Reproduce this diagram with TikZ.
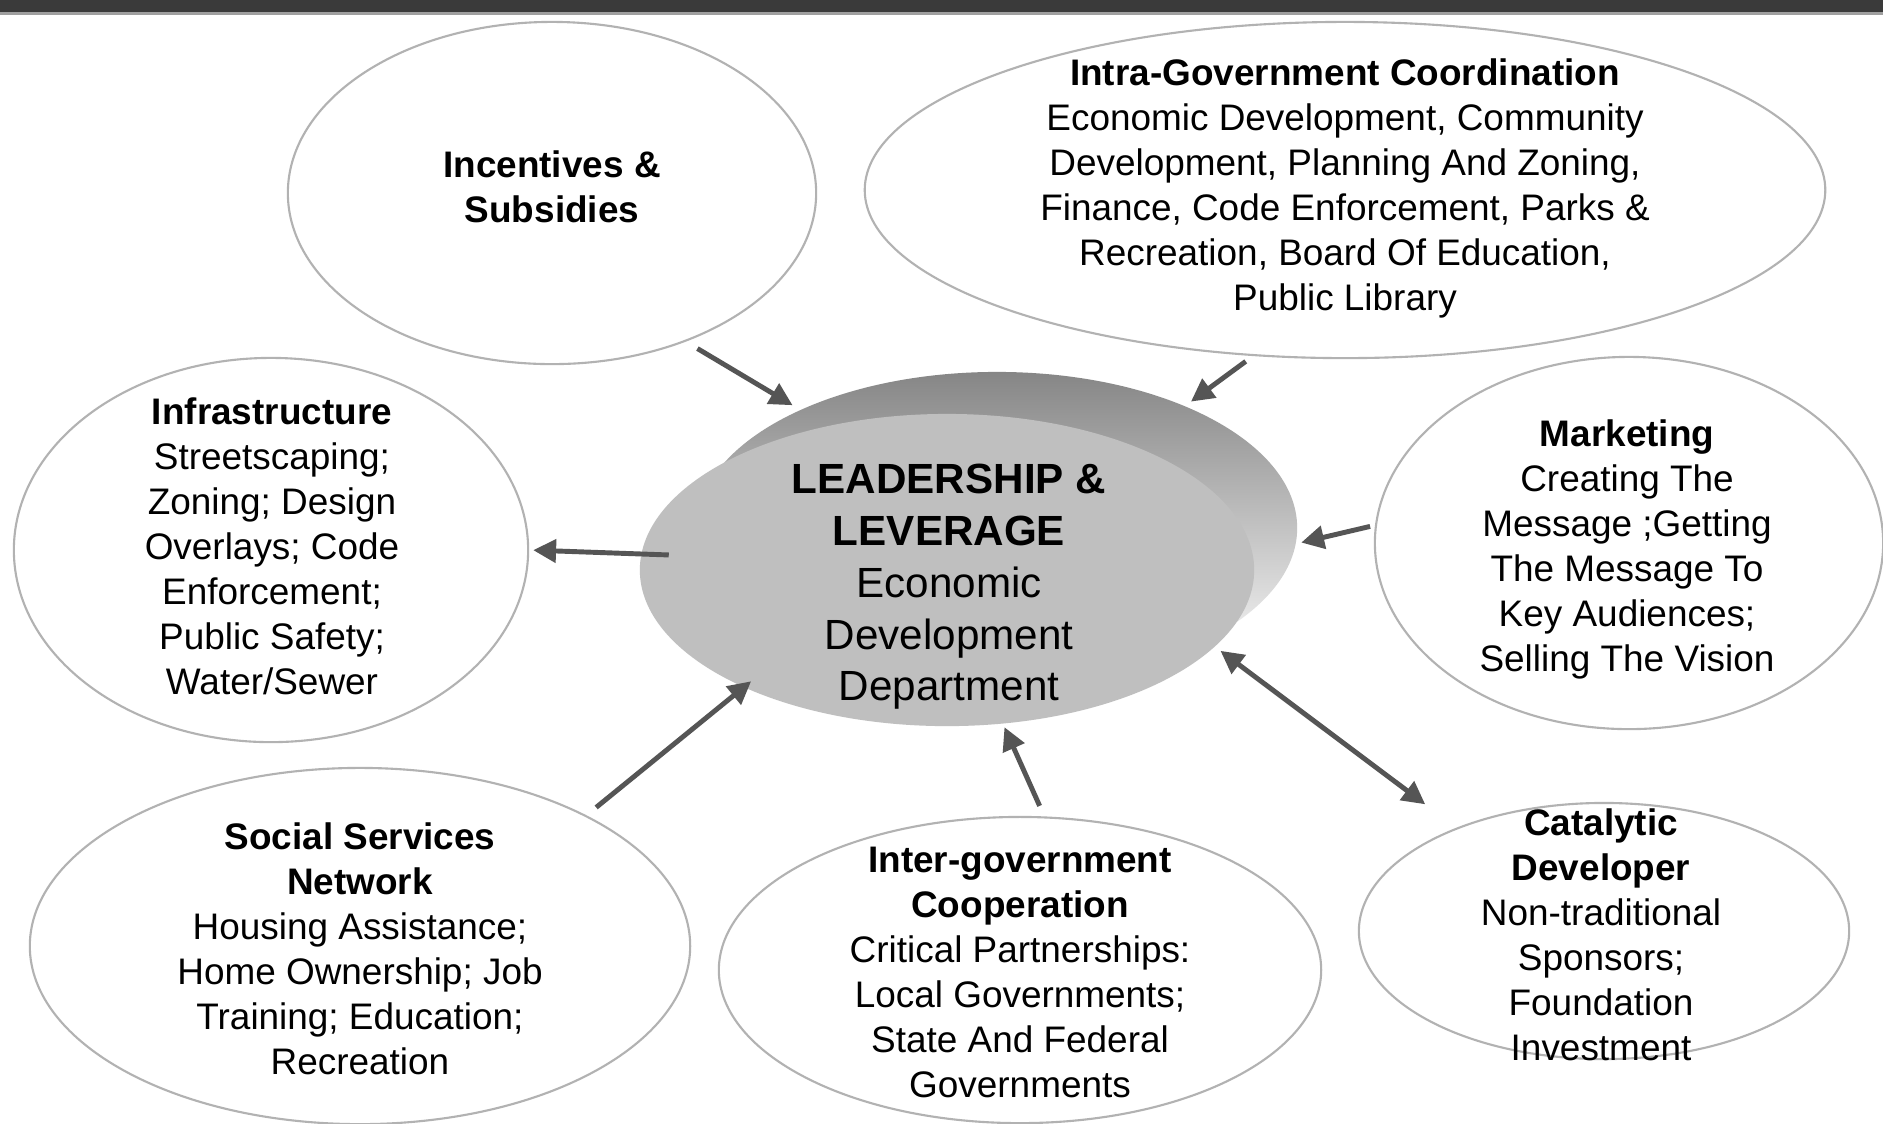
\documentclass[tikz,border=0pt]{standalone}
\usepackage{fontspec}
\setmainfont{Liberation Sans}
\usepackage{xcolor}
\usepackage{tikz}
\usetikzlibrary{shapes.geometric,arrows.meta,positioning}

\definecolor{bargray}{RGB}{58,58,58}
\definecolor{arrowgray}{RGB}{85,85,85}
\definecolor{edgegray}{RGB}{178,178,178}

\begin{document}
\begin{tikzpicture}[
  x=0.01cm, y=-0.01cm,
  bubble/.style={ellipse, draw=edgegray, line width=0.6pt, fill=white, inner sep=0pt},
  bubtext/.style={align=center, inner sep=0pt, font=\fontsize{10.5}{12.8}\selectfont},
  hubtext/.style={align=center, inner sep=0pt, font=\fontsize{12}{14.7}\selectfont},
  link/.style={draw=arrowgray, line width=1.4pt, -{Triangle[length=6.5pt, width=6.5pt]}},
  twoway/.style={link, {Triangle[length=6.5pt, width=6.5pt]}-{Triangle[length=6.5pt, width=6.5pt]}}
]
\useasboundingbox (0,0) rectangle (1883,1123);
\fill[white] (0,0) rectangle (1883,1123);
\fill[bargray] (0,0) rectangle (1883,12);
\fill[gray!75] (0,12) rectangle (1883,15);

\node[bubble, minimum width=5.28cm, minimum height=3.42cm] (incent) at (552,193) {};
\node[bubtext] at (552,187) {\textbf{Incentives \&}\\\textbf{Subsidies}};

\node[bubble, minimum width=9.6cm, minimum height=3.36cm] (intra) at (1345,190) {};
\node[bubtext] at (1345,188) {\textbf{Intra-Government Coordination}\\Economic Development, Community\\Development, Planning And Zoning,\\Finance, Code Enforcement, Parks \&\\Recreation, Board Of Education,\\Public Library};

\node[bubble, minimum width=5.14cm, minimum height=3.84cm] (infra) at (271,550) {};
\node[bubtext] at (272,546) {\textbf{Infrastructure}\\Streetscaping;\\Zoning; Design\\Overlays; Code\\Enforcement;\\Public Safety;\\Water/Sewer};

\node[bubble, minimum width=5.08cm, minimum height=3.72cm] (market) at (1629,543) {};
\node[bubtext] at (1627,549) {\textbf{Marketing}\\Creating The\\Message ;Getting\\The Message To\\Key Audiences;\\Selling The Vision};

\node[bubble, minimum width=6.6cm, minimum height=3.56cm] (social) at (360,946) {};
\node[bubtext] at (360,949) {\textbf{Social Services}\\\textbf{Network}\\Housing Assistance;\\Home Ownership; Job\\Training; Education;\\Recreation};

\node[bubble, minimum width=6.02cm, minimum height=3.06cm] (inter) at (1020,970) {};
\node[bubtext] at (1020,972) {\textbf{Inter-government}\\\textbf{Cooperation}\\Critical Partnerships:\\Local Governments;\\State And Federal\\Governments};

\node[bubble, minimum width=4.9cm, minimum height=2.56cm] (cat) at (1604,931) {};
\node[bubtext] at (1601,935) {\textbf{Catalytic}\\\textbf{Developer}\\Non-traditional\\Sponsors;\\Foundation\\Investment};

\node[ellipse, inner sep=0pt, minimum width=6cm, minimum height=3.12cm,
  top color=gray!95, middle color=gray!22, bottom color=white] (rim) at (997,528) {};
\node[ellipse, inner sep=0pt, minimum width=6.14cm, minimum height=3.12cm,
  fill=gray!50] (lead) at (947,570) {};
\node[hubtext] at (949,587) {\textbf{LEADERSHIP \&}\\\textbf{LEVERAGE}\\Economic\\Development\\Department};

\draw[link, shorten <=1.35mm, shorten >=0.85mm] (incent.-48) -- (rim.149);
\draw[link, shorten <=0.9mm, shorten >=0.7mm] (intra.241) -- (rim.33);
\draw[link, shorten <=-2.8mm, shorten >=0.4mm] (lead.177) -- (infra.0);
\draw[link, shorten <=0.5mm, shorten >=0.5mm] (market.176) -- (rim.-3);
\draw[link, shorten <=1.25mm, shorten >=-1mm] (social.30) -- (lead.210);
\draw[link, shorten <=1.15mm, shorten >=0.33mm] (inter.81) -- (lead.-70);
\draw[twoway, shorten <=0.65mm, shorten >=3.9mm] (lead.-16) -- (cat.145);
\end{tikzpicture}
\end{document}
